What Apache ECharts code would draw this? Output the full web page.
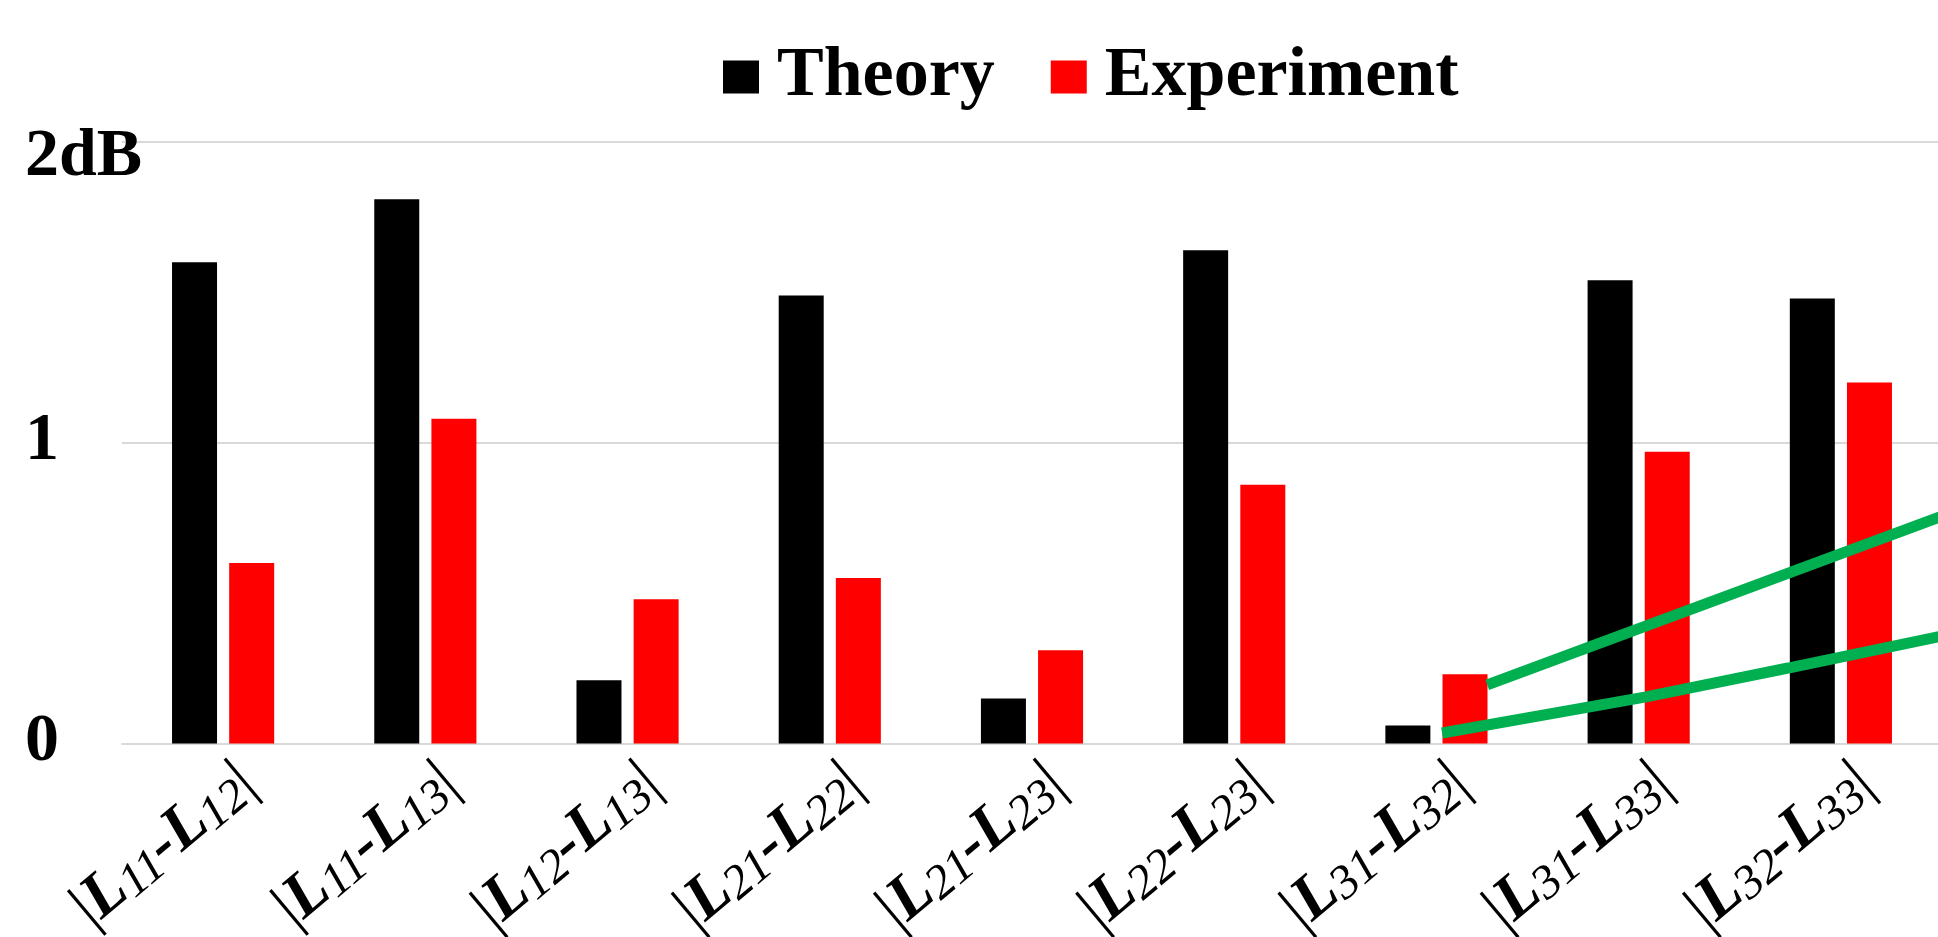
<!DOCTYPE html>
<html>
<head>
<meta charset="utf-8">
<script src="https://cdn.jsdelivr.net/npm/echarts@6/dist/echarts.min.js"></script>
<style>
html,body{margin:0;padding:0;background:#fff;}
#chart{width:1938px;height:937px;}
</style>
</head>
<body>
<div id="chart"></div>
<script>
const categories = ['|L11-L12|','|L11-L13|','|L12-L13|','|L21-L22|','|L21-L23|','|L22-L23|','|L31-L32|','|L31-L33|','|L32-L33|'];
const theory = [1.60, 1.81, 0.21, 1.49, 0.15, 1.64, 0.06, 1.54, 1.48];
const experiment = [0.60, 1.08, 0.48, 0.55, 0.31, 0.86, 0.23, 0.97, 1.20];
const yTicks = {0: '0', 1: '1', 2: '2dB'};
// green annotation lines (x in category units from plot left edge, y in dB)
const upperLineX = [6.751, 9.0];
const upperLineY = [0.195, 0.756];
const lowerLineX = [6.528, 7.537, 8.239, 9.0];
const lowerLineY = [0.035, 0.155, 0.251, 0.357];

const FONT = '"Liberation Serif", "Times New Roman", serif';
const chart = echarts.init(document.getElementById('chart'));

function catLabel(v) {
  const m = v.match(/^\|L(\d+)-L(\d+)\|$/);
  if (!m) return v;
  return '{p||}{L|L}{s|' + m[1] + '}{h|-}{L|L}{s|' + m[2] + '}{p||}';
}

chart.setOption({
  animation: false,
  backgroundColor: '#ffffff',
  legend: {
    data: ['Theory', 'Experiment'],
    left: 723,
    top: 42,
    padding: 0,
    itemGap: 56,
    itemWidth: 36,
    itemHeight: 33,
    icon: 'rect',
    textStyle: {
      fontFamily: FONT, fontWeight: 'bold', fontSize: 70, color: '#000',
      lineHeight: 68, padding: [0, 0, 0, 13]
    }
  },
  grid: { left: 122, top: 142, width: 1820, height: 601.5, containLabel: false, outerBoundsMode: 'none' },
  xAxis: [
    {
      type: 'category',
      data: categories,
      axisLine: { show: true, lineStyle: { color: '#d9d9d9', width: 2 } },
      axisTick: { show: false },
      axisLabel: {
        interval: 0,
        rotate: 40,
        margin: 3,
        verticalAlign: 'top',
        hideOverlap: false,
        formatter: catLabel,
        rich: {
          p: { fontFamily: FONT, fontSize: 64, fontStyle: 'normal', fontWeight: 'normal', color: '#000', lineHeight: 76 },
          L: { fontFamily: FONT, fontSize: 64, fontStyle: 'italic', fontWeight: 'bold', color: '#000', lineHeight: 76 },
          h: { fontFamily: FONT, fontSize: 64, fontStyle: 'italic', fontWeight: 'bold', color: '#000', lineHeight: 76 },
          s: { fontFamily: FONT, fontSize: 48, fontStyle: 'italic', fontWeight: 'normal', color: '#000', lineHeight: 76, padding: [18, 0, 0, 0] }
        }
      }
    },
    { type: 'value', min: 0, max: 9, show: false }
  ],
  yAxis: {
    type: 'value',
    min: 0, max: 2, interval: 1,
    axisLine: { show: false },
    axisTick: { show: false },
    splitLine: { show: true, lineStyle: { color: '#d9d9d9', width: 2 } },
    axisLabel: {
      align: 'left',
      margin: 97,
      formatter: function (v) {
        const t = yTicks[v];
        return v === 2 ? '{a|' + t + '}' : '{b|' + t + '}';
      },
      rich: {
        a: { fontFamily: FONT, fontWeight: 'bold', fontSize: 68, color: '#000', padding: [30, 0, 0, 0] },
        b: { fontFamily: FONT, fontWeight: 'bold', fontSize: 68, color: '#000', padding: [0, 0, 2, 0] }
      }
    }
  },
  series: [
    { name: 'Theory', type: 'bar', data: theory, barWidth: 45, barGap: '27%', itemStyle: { color: '#000000' } },
    { name: 'Experiment', type: 'bar', data: experiment, barWidth: 45, barGap: '27%', itemStyle: { color: '#ff0000' } },
    {
      name: 'upper', type: 'line', xAxisIndex: 1, yAxisIndex: 0, silent: true, symbol: 'none',
      data: upperLineX.map((x, i) => [x, upperLineY[i]]),
      lineStyle: { color: '#00b050', width: 11, cap: 'butt' }, z: 5
    },
    {
      name: 'lower', type: 'line', xAxisIndex: 1, yAxisIndex: 0, silent: true, symbol: 'none',
      data: lowerLineX.map((x, i) => [x, lowerLineY[i]]),
      lineStyle: { color: '#00b050', width: 11, cap: 'butt' }, z: 5
    }
  ]
});
</script>
</body>
</html>
